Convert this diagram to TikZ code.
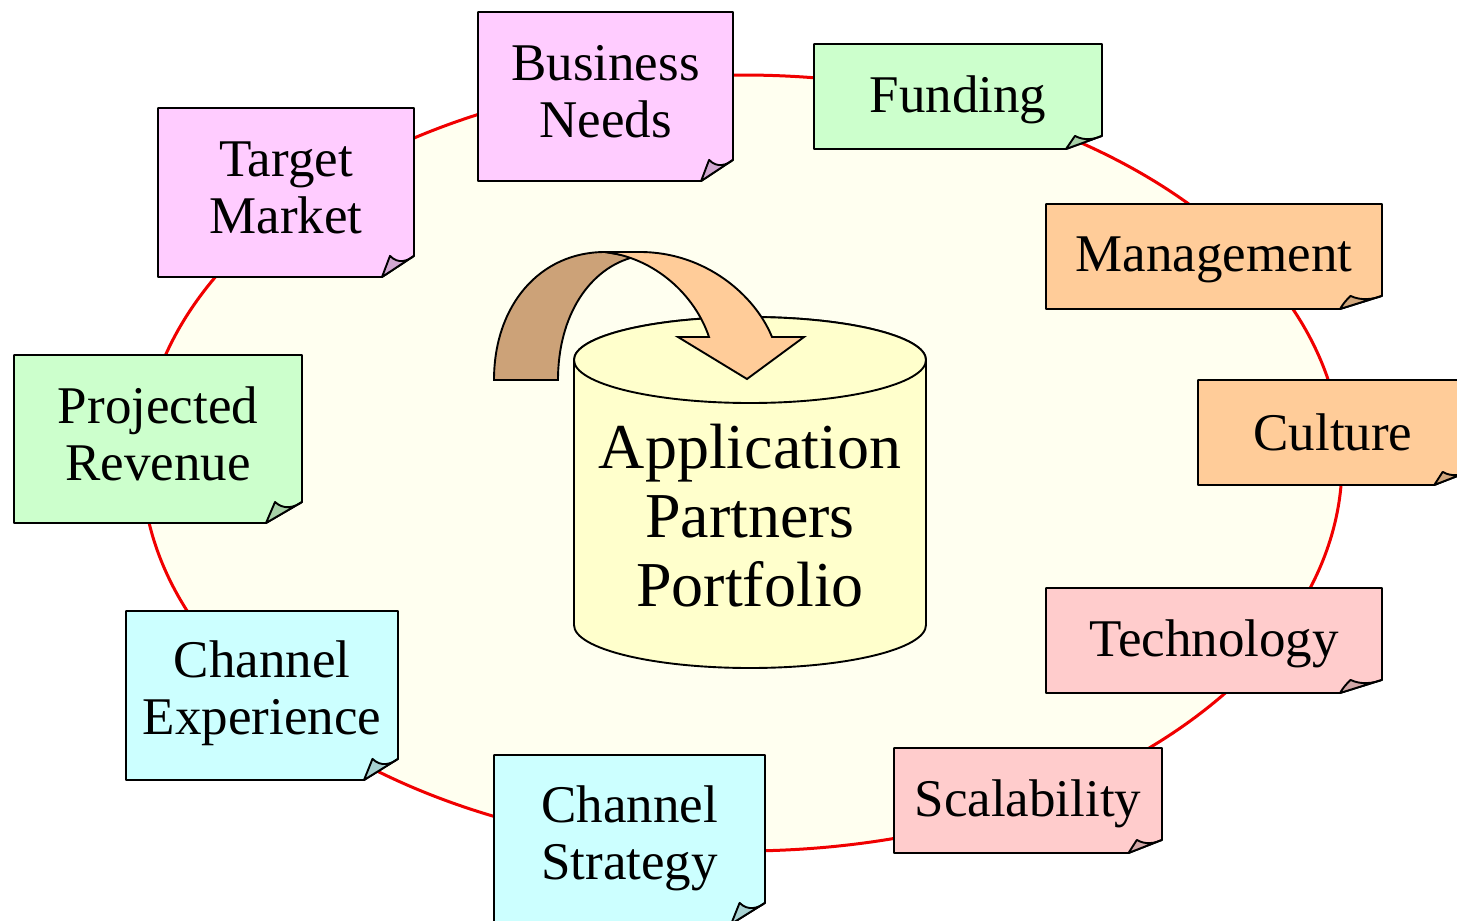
\documentclass[tikz,border=0pt]{standalone}
\usepackage{fontspec}
\setmainfont{Liberation Serif}
\definecolor{ringfill}{RGB}{255,255,240}
\definecolor{ringline}{RGB}{240,0,0}
\definecolor{cylfill}{RGB}{255,255,204}
\definecolor{cpink}{RGB}{255,204,255}
\definecolor{cgreen}{RGB}{204,255,204}
\definecolor{corange}{RGB}{255,204,153}
\definecolor{csalmon}{RGB}{255,204,204}
\definecolor{ccyan}{RGB}{204,255,255}
\definecolor{arrowdark}{RGB}{204,162,120}
\definecolor{arrowlight}{RGB}{255,204,153}
\newcommand\stickynote[8]{%
  \pgfmathsetmacro\dxx{0.125*(#4-#2)}%
  \pgfmathsetmacro\dyy{0.125*(#5-#3)}%
  \filldraw[note, fill=#6] (#2,#3) -- (#4,#3) -- (#4,#5-\dyy) -- (#4-\dxx,#5) -- (#2,#5) -- cycle;
  \filldraw[note, fill=#6!82!black] (#4-\dxx,#5) .. controls (#4-0.9*\dxx,#5-0.5*\dyy) .. (#4-0.75*\dxx,#5-\dyy)
     .. controls (#4-0.5*\dxx,#5-0.6*\dyy) and (#4-0.2*\dxx,#5-0.75*\dyy) .. (#4,#5-\dyy) -- cycle;
  \node[notetext, yshift=#8pt] (#1) at ({(#2+#4)/2},{(#3+#5)/2}) {#7};
}
\begin{document}
\begin{tikzpicture}[x=1pt,y=-1pt,
  note/.style={draw=black, line width=1.9pt, line join=round},
  notetext/.style={align=center, font=\fontsize{53}{57}\selectfont, inner sep=0pt},
  bigtext/.style={align=center, font=\fontsize{64}{69}\selectfont, inner sep=0pt}]
\useasboundingbox (0,0) rectangle (1457,921);
\fill[white] (0,0) rectangle (1457,921);
% ring
\filldraw[fill=ringfill, draw=ringline, line width=3pt] (742,463) ellipse [x radius=600pt, y radius=388pt];
% cylinder
\filldraw[fill=cylfill, draw=black, line width=1.9pt] (574,360) -- (574,625)
  arc[start angle=180, end angle=360, x radius=176pt, y radius=43pt] -- (926,360)
  arc[start angle=0, end angle=180, x radius=176pt, y radius=43pt] -- cycle;
\draw[fill=cylfill, line width=1.9pt] (750,360) ellipse [x radius=176pt, y radius=43pt];
\node[bigtext] (portfolio) at (750,516) {Application\\Partners\\Portfolio};
% curved arrow
\filldraw[fill=arrowdark, draw=black, line width=1.9pt]
  (494,380) .. controls (494,305) and (540,252) .. (605,252) -- (634,257)
  .. controls (590,268) and (558,315) .. (558,380) -- cycle;
\filldraw[fill=arrowlight, draw=black, line width=1.9pt, line join=miter]
  (605,252) -- (640,252) .. controls (705,252) and (755,295) .. (772,337)
  -- (804,337) -- (747,379) -- (678,337) -- (709,337)
  .. controls (695,295) and (655,258) .. (605,252) -- cycle;
% notes
\stickynote{business}{478}{12}{733}{181}{cpink}{Business\\Needs}{5}
\stickynote{funding}{814}{44}{1102}{149}{cgreen}{Funding}{-3}
\stickynote{management}{1046}{204}{1382}{309}{corange}{Management}{-3}
\stickynote{culture}{1198}{380}{1468}{485}{corange}{Culture}{0}
\stickynote{technology}{1046}{588}{1382}{693}{csalmon}{Technology}{-3}
\stickynote{scalability}{894}{748}{1162}{853}{csalmon}{Scalability}{-3}
\stickynote{strategy}{494}{755}{765}{924}{ccyan}{Channel\\Strategy}{1}
\stickynote{experience}{126}{611}{398}{780}{ccyan}{Channel\\Experience}{2}
\stickynote{revenue}{14}{355}{302}{523}{cgreen}{Projected\\Revenue}{5}
\stickynote{target}{158}{108}{414}{277}{cpink}{Target\\Market}{5}
\end{tikzpicture}
\end{document}
